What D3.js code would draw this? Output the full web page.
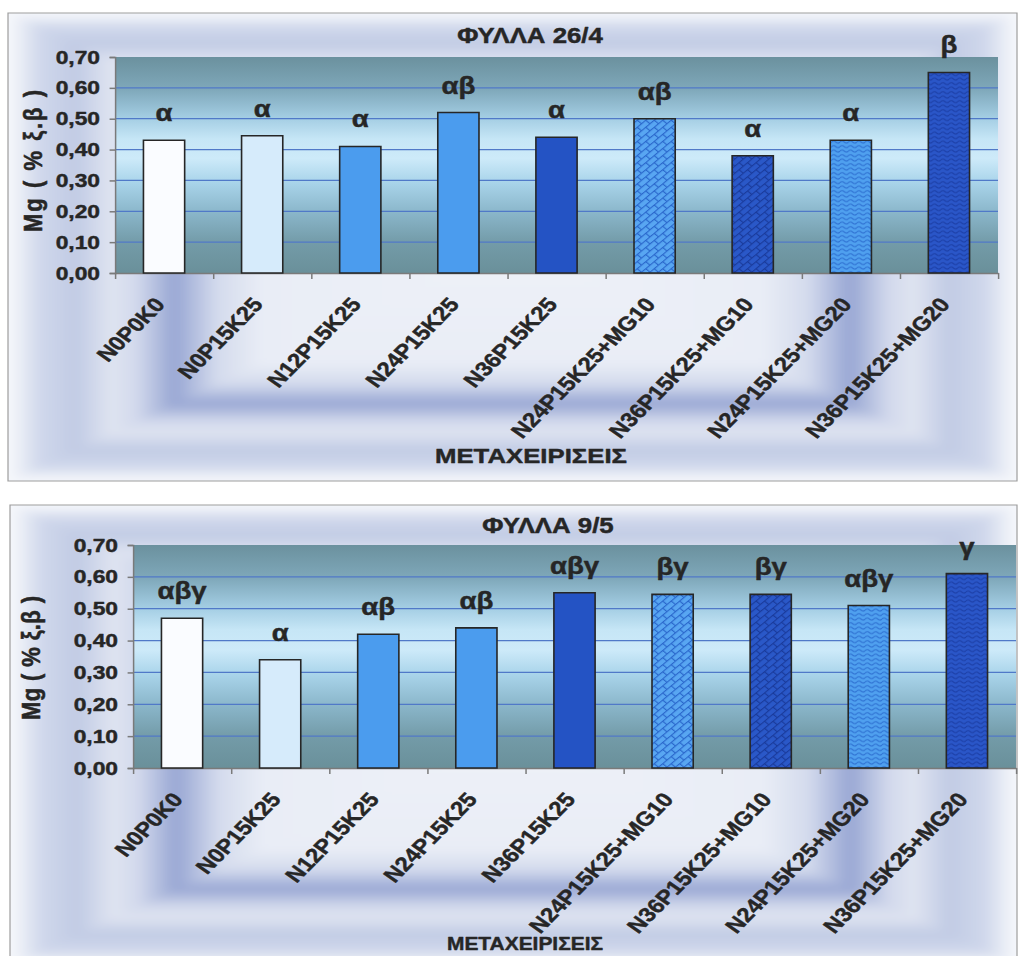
<!DOCTYPE html>
<html><head><meta charset="utf-8">
<script src="https://cdn.jsdelivr.net/npm/d3@7"></script>
<style>html,body{margin:0;padding:0;background:#fff;overflow:hidden}</style>
</head><body>
<svg id="chart" width="1023" height="956"></svg>
<script>
// ---------- DATA ----------
const categories = ["N0P0K0","N0P15K25","N12P15K25","N24P15K25","N36P15K25",
  "N24P15K25+MG10","N36P15K25+MG10","N24P15K25+MG20","N36P15K25+MG20"];
const mg_26_4 = [0.43, 0.445, 0.41, 0.52, 0.44, 0.50, 0.38, 0.43, 0.65];
const letters_26_4 = ["α","α","α","αβ","α","αβ","α","α","β"];
const mg_9_5 = [0.47, 0.34, 0.42, 0.44, 0.55, 0.545, 0.545, 0.51, 0.61];
const letters_9_5 = ["αβγ","α","αβ","αβ","αβγ","βγ","βγ","αβγ","γ"];
const yTickValues = [0, 0.1, 0.2, 0.3, 0.4, 0.5, 0.6, 0.7];
const yTickLabels = ["0,00","0,10","0,20","0,30","0,40","0,50","0,60","0,70"];
const titles = ["ΦΥΛΛΑ 26/4", "ΦΥΛΛΑ 9/5"];
const yTitles = ["Mg ( % ξ.β )", "Mg  ( % ξ.β )"];
const xTitle = "ΜΕΤΑΧΕΙΡΙΣΕΙΣ";

// ---------- STYLE ----------
const SX = 1.2;                 // horizontal stretch of the original picture
const u = v => v / SX;
const LABEL_ANGLE = -Math.atan(SX) * 180 / Math.PI;   // appears as 45° after stretch
const FONT = "'Liberation Sans', Arial, Helvetica, sans-serif";
const TEXT = "#262626";
const barFills = ["#fafcff","#d6ebfb","#4b9cee","#4b9cee","#2453c4",
  "url(#brickLight)","url(#brickDark)","url(#waveLight)","url(#waveDark)"];
const plotStops = [[0,"#6b919e"],[0.15,"#7fa8ba"],[0.28,"#a3cde3"],[0.38,"#c6e6f6"],
  [0.47,"#cdeaf9"],[0.58,"#a9d4ea"],[0.72,"#8ab6ca"],[0.86,"#739ba8"],[1,"#6a909a"]];
const bgColor = d3.scaleLinear()
  .domain([0, 0.5, 0.59, 0.675, 0.75, 0.8, 0.87, 0.94, 1])
  .range(["#eef1f8","#e9edf6","#d4dbed","#97a6d3","#d2d9ec","#dfe4f1","#c1cbe4","#cfd7eb","#f5f7fb"]);

const svg = d3.select("#chart");
const defs = svg.append("defs");

const pg = defs.append("linearGradient").attr("id","plotGrad")
  .attr("x1",0).attr("y1",0).attr("x2",0).attr("y2",1);
plotStops.forEach(([o,c]) => pg.append("stop").attr("offset",o).attr("stop-color",c));

defs.append("filter").attr("id","soft").attr("x","-10%").attr("y","-10%")
  .attr("width","120%").attr("height","120%")
  .append("feGaussianBlur").attr("stdDeviation",5);

function addBrick(id, bg, line){
  const p = defs.append("pattern").attr("id",id).attr("patternUnits","userSpaceOnUse")
    .attr("width",10).attr("height",10).attr("patternTransform","rotate(-45)");
  p.append("rect").attr("width",10).attr("height",10).attr("fill",bg);
  p.append("path").attr("d","M0,0.5H10M0,5.5H10M0.5,0.5V5.5M5.5,5.5V10.5")
    .attr("stroke",line).attr("stroke-width",1.1).attr("fill","none");
}
function addWave(id, bg, line){
  const p = defs.append("pattern").attr("id",id).attr("patternUnits","userSpaceOnUse")
    .attr("width",7).attr("height",4.5);
  p.append("rect").attr("width",7).attr("height",4.5).attr("fill",bg);
  p.append("path").attr("d","M0,2.6 Q1.75,0.6 3.5,2.6 T7,2.6")
    .attr("stroke",line).attr("stroke-width",1).attr("fill","none");
}
addBrick("brickLight","#58a6f2","#2a68cc");
addBrick("brickDark","#2a58c8","#1a3b9c");
addWave("waveLight","#4fa0ef","#2c6ed0");
addWave("waveDark","#2a56c8","#1b3da4");

const root = svg.append("g").attr("transform", `scale(${SX},1)`);

const panels = [
  { values: mg_26_4, letters: letters_26_4, title: titles[0], yTitle: yTitles[0],
    frame:{x0:8,x1:1017,y0:13,y1:481}, plot:{x0:115,x1:998,y0:57,y1:273},
    titlePos:{x:530,y:43}, yTitlePos:{x:33,y:161,len:142},
    xTitlePos:{x:531,y:463,size:21,len:192} },
  { values: mg_9_5, letters: letters_9_5, title: titles[1], yTitle: yTitles[1],
    frame:{x0:10,x1:1017,y0:505,y1:965}, plot:{x0:133,x1:1016,y0:545,y1:768},
    titlePos:{x:548,y:533}, yTitlePos:{x:31,y:658,len:124},
    xTitlePos:{x:525,y:950,size:19,len:156} }
];

function heavy(sel){
  return sel.attr("font-family",FONT).attr("font-weight","bold").attr("fill",TEXT)
    .attr("stroke",TEXT).attr("stroke-width",0.45).attr("stroke-linejoin","round");
}

panels.forEach((P, pi) => {
  const g = root.append("g");
  const F = P.frame;
  // clip + background (rectangular "from centre" gradient)
  defs.append("clipPath").attr("id","clip"+pi).append("rect")
    .attr("x",u(F.x0)).attr("y",F.y0).attr("width",u(F.x1-F.x0)).attr("height",F.y1-F.y0);
  const bg = g.append("g").attr("clip-path",`url(#clip${pi})`).append("g").attr("filter","url(#soft)");
  const cx = (F.x0+F.x1)/2, cy = (F.y0+F.y1)/2, W = (F.x1-F.x0)/2, H = (F.y1-F.y0)/2;
  const steps = d3.range(1.06, 0, -0.01);
  bg.selectAll("rect").data(steps).join("rect")
    .attr("x", d => u(cx - d*W)).attr("width", d => u(2*d*W))
    .attr("y", d => cy - d*H).attr("height", d => 2*d*H)
    .attr("fill", d => bgColor(Math.min(d,1)));
  g.append("rect").attr("x",u(F.x0)).attr("y",F.y0).attr("width",u(F.x1-F.x0)).attr("height",F.y1-F.y0)
    .attr("fill","none").attr("stroke","#9d9d9d").attr("stroke-width",1.2).attr("vector-effect","non-scaling-stroke");

  const Pl = P.plot;
  const x = d3.scaleBand().domain(categories).range([u(Pl.x0), u(Pl.x1)])
    .paddingInner(0.58).paddingOuter(0.29);
  const y = d3.scaleLinear().domain([0, 0.7]).range([Pl.y1, Pl.y0]);
  const xb = d3.scaleLinear().domain([0, categories.length]).range([u(Pl.x0), u(Pl.x1)]);

  // plot area
  g.append("rect").attr("x",u(Pl.x0)).attr("y",Pl.y0).attr("width",u(Pl.x1-Pl.x0)).attr("height",Pl.y1-Pl.y0)
    .attr("fill","url(#plotGrad)");
  // gridlines
  g.append("g").selectAll("line").data(yTickValues.filter(v => v > 0 && v < 0.7)).join("line")
    .attr("x1",u(Pl.x0)).attr("x2",u(Pl.x1)).attr("y1",d=>y(d)).attr("y2",d=>y(d))
    .attr("stroke","#5079c8").attr("stroke-width",1.3).attr("vector-effect","non-scaling-stroke");

  // y axis
  const ya = g.append("g").attr("transform",`translate(${u(Pl.x0)},0)`)
    .call(d3.axisLeft(y).tickValues(yTickValues).tickFormat((d,i)=>yTickLabels[i]).tickSize(4.5).tickPadding(8));
  ya.select(".domain").attr("stroke","#7a7a7a").attr("stroke-width",1.5).attr("vector-effect","non-scaling-stroke");
  ya.selectAll(".tick line").attr("stroke","#7a7a7a").attr("stroke-width",1.5).attr("vector-effect","non-scaling-stroke");
  heavy(ya.selectAll("text")).attr("font-size",19);

  // x axis (category boundaries)
  const xa = g.append("g").attr("transform",`translate(0,${Pl.y1})`)
    .call(d3.axisBottom(xb).tickValues(d3.range(categories.length+1)).tickFormat("").tickSize(6).tickSizeOuter(0));
  xa.select(".domain").attr("stroke","#7a7a7a").attr("stroke-width",1.5).attr("vector-effect","non-scaling-stroke");
  xa.selectAll(".tick line").attr("stroke","#7a7a7a").attr("stroke-width",1.5).attr("vector-effect","non-scaling-stroke");

  // bars
  g.append("g").selectAll("rect").data(P.values).join("rect")
    .attr("x",(d,i)=>x(categories[i])).attr("width",x.bandwidth())
    .attr("y",d=>y(d)).attr("height",d=>y(0)-y(d))
    .attr("fill",(d,i)=>barFills[i]).attr("stroke","#262626").attr("stroke-width",1.6)
    .attr("vector-effect","non-scaling-stroke");

  // significance letters
  heavy(g.append("g").selectAll("text").data(P.values).join("text")
    .attr("x",(d,i)=>x(categories[i])+x.bandwidth()/2).attr("y",d=>y(d)-19)
    .attr("text-anchor","middle")).attr("font-size",23).text((d,i)=>P.letters[i]);

  // category labels
  heavy(g.append("g").selectAll("text").data(categories).join("text")
    .attr("transform",c=>`translate(${x(c)+x.bandwidth()/2+u(2)},${Pl.y1+32}) rotate(${LABEL_ANGLE})`)
    .attr("text-anchor","end")).attr("font-size",20).text(c=>c);

  // titles
  heavy(g.append("text").attr("x",u(P.titlePos.x)).attr("y",P.titlePos.y).attr("text-anchor","middle"))
    .attr("font-size",21.5).text(P.title);
  heavy(g.append("text").attr("transform",`translate(${u(P.yTitlePos.x)},${P.yTitlePos.y}) rotate(-90)`)
    .attr("text-anchor","middle").attr("dominant-baseline","central"))
    .attr("font-size",22).attr("textLength",P.yTitlePos.len).attr("lengthAdjust","spacing").text(P.yTitle);
  heavy(g.append("text").attr("x",u(P.xTitlePos.x)).attr("y",P.xTitlePos.y).attr("text-anchor","middle"))
    .attr("font-size",P.xTitlePos.size)
    .attr("textLength",u(P.xTitlePos.len)).attr("lengthAdjust","spacingAndGlyphs").text(xTitle);
});
</script>
</body></html>
